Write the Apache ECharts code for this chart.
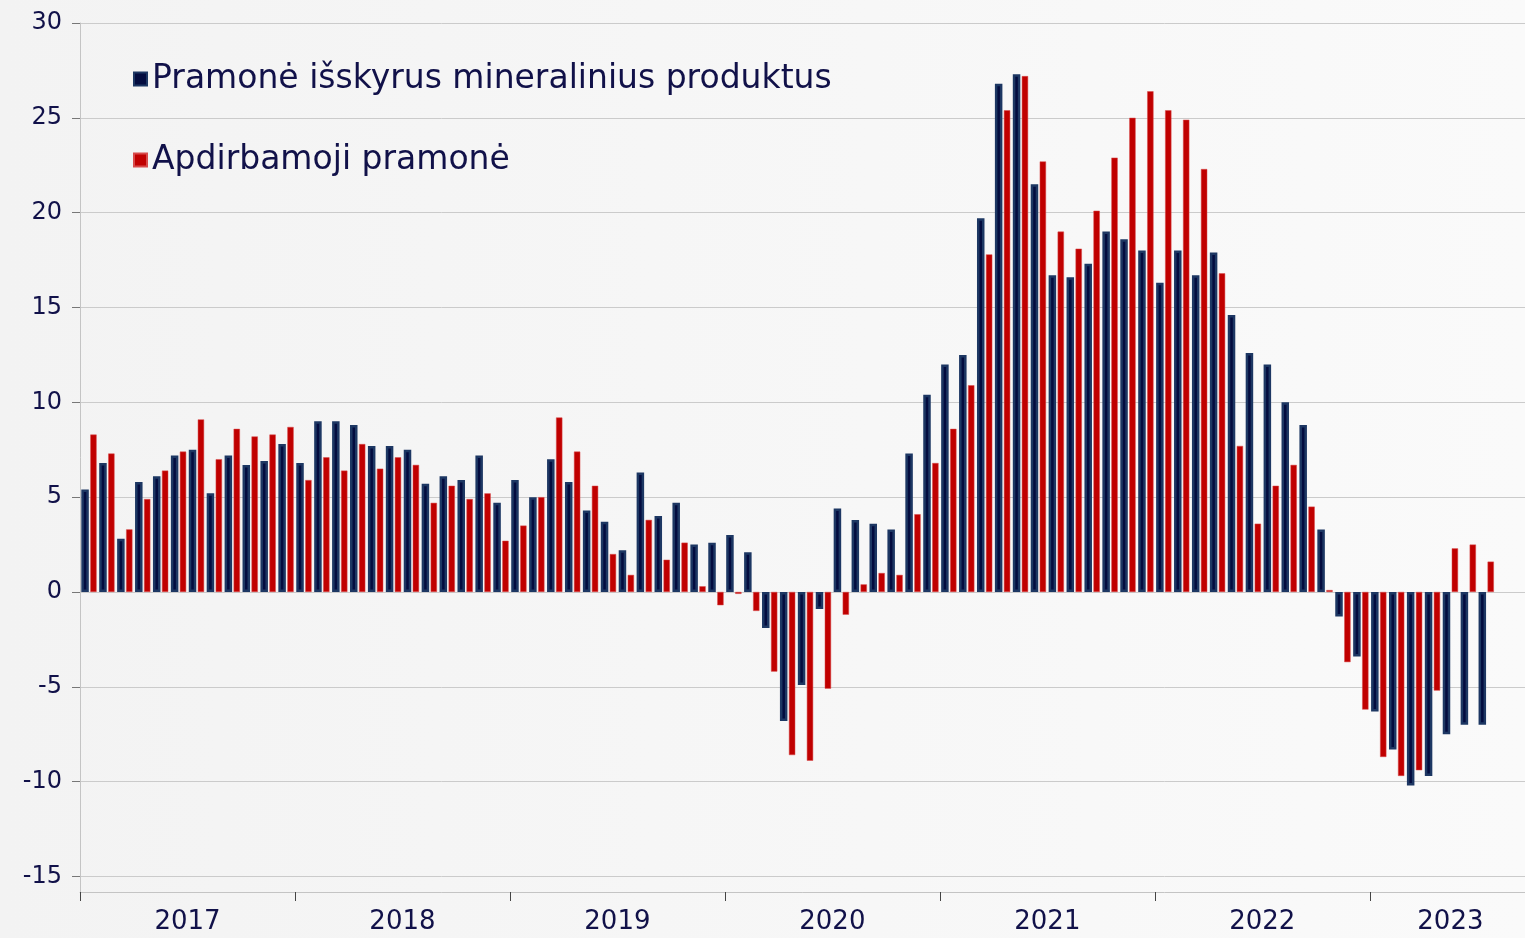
<!doctype html>
<html>
<head>
<meta charset="UTF-8">
<title>Pramonė</title>
<script src="https://cdn.jsdelivr.net/npm/echarts@6/dist/echarts.min.js"></script>
<style>
	html, body { margin: 0; padding: 0; }
	#chart { width: 1525px; height: 938px; }
</style>
</head>
<body>
<div id="chart"></div>
<script>
	// metai ir mėnesiai: 2017-01 .. 2023-09
	var years = ['2017', '2018', '2019', '2020', '2021', '2022', '2023'];
	var months = [];
	years.forEach(function (y) {
		for (var m = 1; m <= 12; m++) {
			if (y === '2023' && m > 9) break;
			months.push(y + '-' + (m < 10 ? '0' + m : m));
		}
	});

	var yTicks = [-15, -10, -5, 0, 5, 10, 15, 20, 25, 30];

	// Pramonė išskyrus mineralinius produktus
	var pramone = [
		5.4, 6.8, 2.8, 5.8, 6.1, 7.2, 7.5, 5.2, 7.2, 6.7, 6.9, 7.8,
		6.8, 9.0, 9.0, 8.8, 7.7, 7.7, 7.5, 5.7, 6.1, 5.9, 7.2, 4.7,
		5.9, 5.0, 7.0, 5.8, 4.3, 3.7, 2.2, 6.3, 4.0, 4.7, 2.5, 2.6,
		3.0, 2.1, -1.9, -6.8, -4.9, -0.9, 4.4, 3.8, 3.6, 3.3, 7.3, 10.4,
		12.0, 12.5, 19.7, 26.8, 27.3, 21.5, 16.7, 16.6, 17.3, 19.0, 18.6, 18.0,
		16.3, 18.0, 16.7, 17.9, 14.6, 12.6, 12.0, 10.0, 8.8, 3.3, -1.3, -3.4,
		-6.3, -8.3, -10.2, -9.7, -7.5, -7.0, -7.0, null, null
	];

	// Apdirbamoji pramonė
	var apdirbamoji = [
		8.3, 7.3, 3.3, 4.9, 6.4, 7.4, 9.1, 7.0, 8.6, 8.2, 8.3, 8.7,
		5.9, 7.1, 6.4, 7.8, 6.5, 7.1, 6.7, 4.7, 5.6, 4.9, 5.2, 2.7,
		3.5, 5.0, 9.2, 7.4, 5.6, 2.0, 0.9, 3.8, 1.7, 2.6, 0.3, -0.7,
		-0.1, -1.0, -4.2, -8.6, -8.9, -5.1, -1.2, 0.4, 1.0, 0.9, 4.1, 6.8,
		8.6, 10.9, 17.8, 25.4, 27.2, 22.7, 19.0, 18.1, 20.1, 22.9, 25.0, 26.4,
		25.4, 24.9, 22.3, 16.8, 7.7, 3.6, 5.6, 6.7, 4.5, 0.1, -3.7, -6.2,
		-8.7, -9.7, -9.4, -5.2, 2.3, 2.5, 1.6, null, null
	];

	// metų ribos ir vidurio taškai (mėnesių skalėje)
	var yearStarts = years.map(function (y, i) { return i * 12; });
	var yearMids = years.map(function (y, i) {
		return (i * 12 + Math.min(i * 12 + 12, months.length)) / 2;
	});

	var txt = '#111149';
	var font = 'DejaVu Sans';

	var option = {
		animation: false,
		backgroundColor: {
			type: 'linear', x: 0, y: 0, x2: 1, y2: 0,
			colorStops: [{ offset: 0, color: '#f3f3f3' }, { offset: 1, color: '#fafafa' }]
		},
		textStyle: { fontFamily: font, color: txt },
		legend: {
			orient: 'vertical',
			left: 133,
			top: 61,
			padding: 0,
			itemWidth: 13,
			itemHeight: 13,
			itemGap: 45,
			icon: 'rect',
			textStyle: { fontFamily: font, fontSize: 33, color: txt, lineHeight: 36 },
			data: ['Pramonė išskyrus mineralinius produktus', 'Apdirbamoji pramonė']
		},
		grid: { left: 80, right: -6, top: 23, bottom: 46, outerBoundsMode: 'none' },
		xAxis: [{
			type: 'category',
			position: 'bottom',
			data: months,
			axisLine: { onZero: false, lineStyle: { color: '#c4c4c4', width: 1 } },
			axisTick: { show: false },
			axisLabel: { show: false },
			splitLine: { show: false }
		}, {
			type: 'value',
			position: 'bottom',
			min: 0,
			max: months.length,
			axisLine: { show: false, onZero: false },
			axisTick: { show: true, length: 9, customValues: yearStarts, lineStyle: { color: '#444' } },
			axisLabel: {
				customValues: yearMids,
				margin: 17,
				fontFamily: font,
				fontSize: 26,
				color: txt,
				formatter: function (v) { return years[Math.floor(v / 12)]; }
			},
			splitLine: { show: false }
		}],
		yAxis: {
			type: 'value',
			min: -15.82,
			max: 30,
			axisLine: { show: true, lineStyle: { color: '#c4c4c4' } },
			axisTick: { show: true, length: 8, customValues: yTicks, lineStyle: { color: '#777' } },
			axisLabel: {
				customValues: yTicks,
				margin: 18,
				fontFamily: font,
				fontSize: 24,
				color: txt
			},
			splitLine: { show: true, lineStyle: { color: '#cbcbcb', width: 1 } }
		},
		series: [{
			name: 'Pramonė išskyrus mineralinius produktus',
			type: 'bar',
			xAxisIndex: 0,
			data: pramone,
			barWidth: 7.5,
			barGap: '20%',
			itemStyle: { color: '#030c3f', borderColor: '#1d3763', borderWidth: 2.5 }
		}, {
			name: 'Apdirbamoji pramonė',
			type: 'bar',
			xAxisIndex: 0,
			data: apdirbamoji,
			barWidth: 6.3,
			itemStyle: { color: '#c00000', borderColor: '#d84a4a', borderWidth: 0.5 }
		}]
	};

	var myChart = echarts.init(document.getElementById('chart'));
	myChart.setOption(option);
</script>
</body>
</html>
